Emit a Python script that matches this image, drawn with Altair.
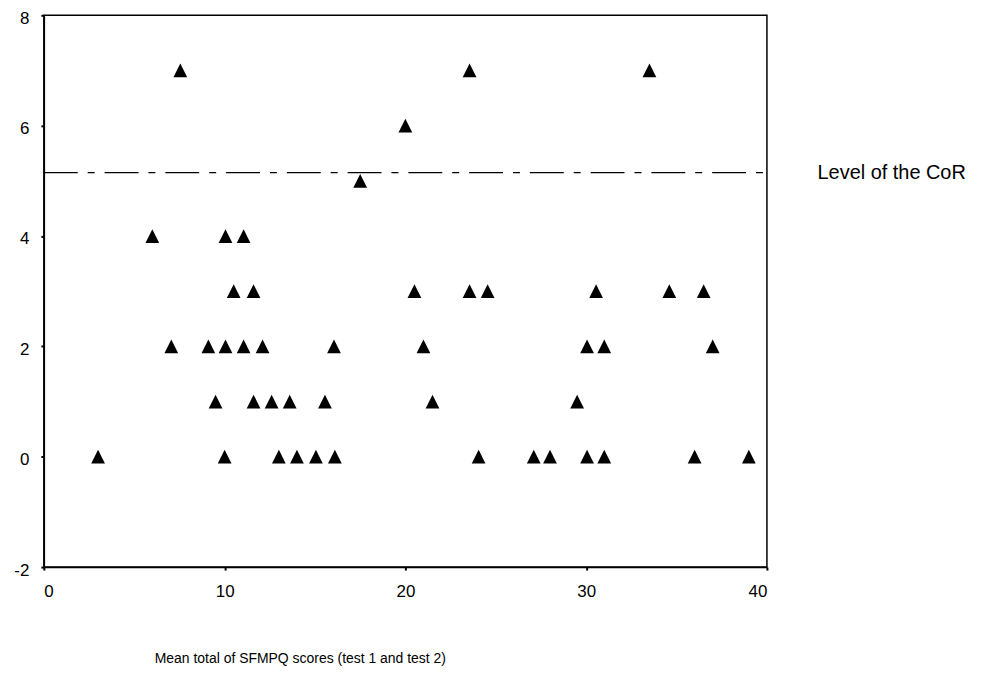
import altair as alt
import pandas as pd

# Data
x_vals = [3.0, 10.0, 13.0, 14.0, 15.05, 16.1, 24.05, 27.1, 28.0, 30.05, 31.0, 36.0, 39.0,
          9.5, 11.6, 12.6, 13.6, 15.55, 21.5, 29.5,
          7.05, 9.1, 10.05, 11.05, 12.1, 16.05, 21.0, 30.05, 31.0, 37.0,
          10.5, 11.6, 20.5, 23.55, 24.55, 30.55, 34.6, 36.5,
          6.0, 10.05, 11.05,
          17.5,
          20.0,
          7.55, 23.55, 33.5]
y_vals = [0] * 13 + [1] * 7 + [2] * 10 + [3] * 8 + [4] * 3 + [5] + [6] + [7] * 3

cor_level = 5.15
cor_label = "Level of the CoR"
x_title = "Mean total of SFMPQ scores (test 1 and test 2)"
x_ticks = [0, 10, 20, 30, 40]
y_ticks = [-2, 0, 2, 4, 6, 8]

df = pd.DataFrame({"x": x_vals, "y": y_vals})
FONT = "Liberation Sans"

xs = alt.Scale(domain=[0, 40], nice=False, zero=False)
ys = alt.Scale(domain=[-2, 8], nice=False, zero=False)

points = alt.Chart(df).mark_point(
    shape="M0,-1L1,1L-1,1Z", filled=True, color="black", opacity=1, size=190, strokeWidth=0
).encode(
    x=alt.X("x:Q", scale=xs, axis=alt.Axis(
        values=x_ticks, title=x_title, grid=False, domainColor="black", domainWidth=1.5,
        tickColor="black", tickSize=3, tickWidth=2, labelFont=FONT, labelFontSize=17,
        labelColor="black", labelPadding=14, labelExpr="'' + datum.value",
        titleFont=FONT, titleFontSize=14,
        titleFontWeight="normal", titleColor="black", titleX=257, titleY=96,
        titleAlign="center", titleBaseline="alphabetic")),
    y=alt.Y("y:Q", scale=ys, axis=alt.Axis(
        values=y_ticks, title=None, grid=False, domainColor="black", domainWidth=1.5,
        tickColor="black", tickSize=3, tickWidth=2, labelFont=FONT, labelFontSize=17,
        labelColor="black", labelPadding=12, labelOffset=3,
        labelExpr="'' + datum.value")),
)

rule_df = pd.DataFrame({"x": [0], "x2": [40], "y": [cor_level]})
rule = alt.Chart(rule_df).mark_rule(
    color="black", strokeWidth=1.3, strokeDash=[34, 10, 7, 10]
).encode(x=alt.X("x:Q", scale=xs), x2="x2:Q", y=alt.Y("y:Q", scale=ys))

label_df = pd.DataFrame({"x": [42.8], "y": [cor_level], "t": [cor_label]})
label = alt.Chart(label_df).mark_text(
    align="left", baseline="middle", font=FONT, fontSize=20, color="black", clip=False
).encode(x=alt.X("x:Q", scale=xs), y=alt.Y("y:Q", scale=ys), text="t:N")

chart = alt.layer(rule, points, label).properties(
    width=726, height=554,
    autosize=alt.AutoSizeParams(type="none"),
    padding={"left": 36, "top": 6, "right": 230, "bottom": 99},
    background="white",
).configure_view(stroke="black", strokeWidth=1.5)

chart.save("out.html", embed_options={"renderer": "svg", "actions": False})
